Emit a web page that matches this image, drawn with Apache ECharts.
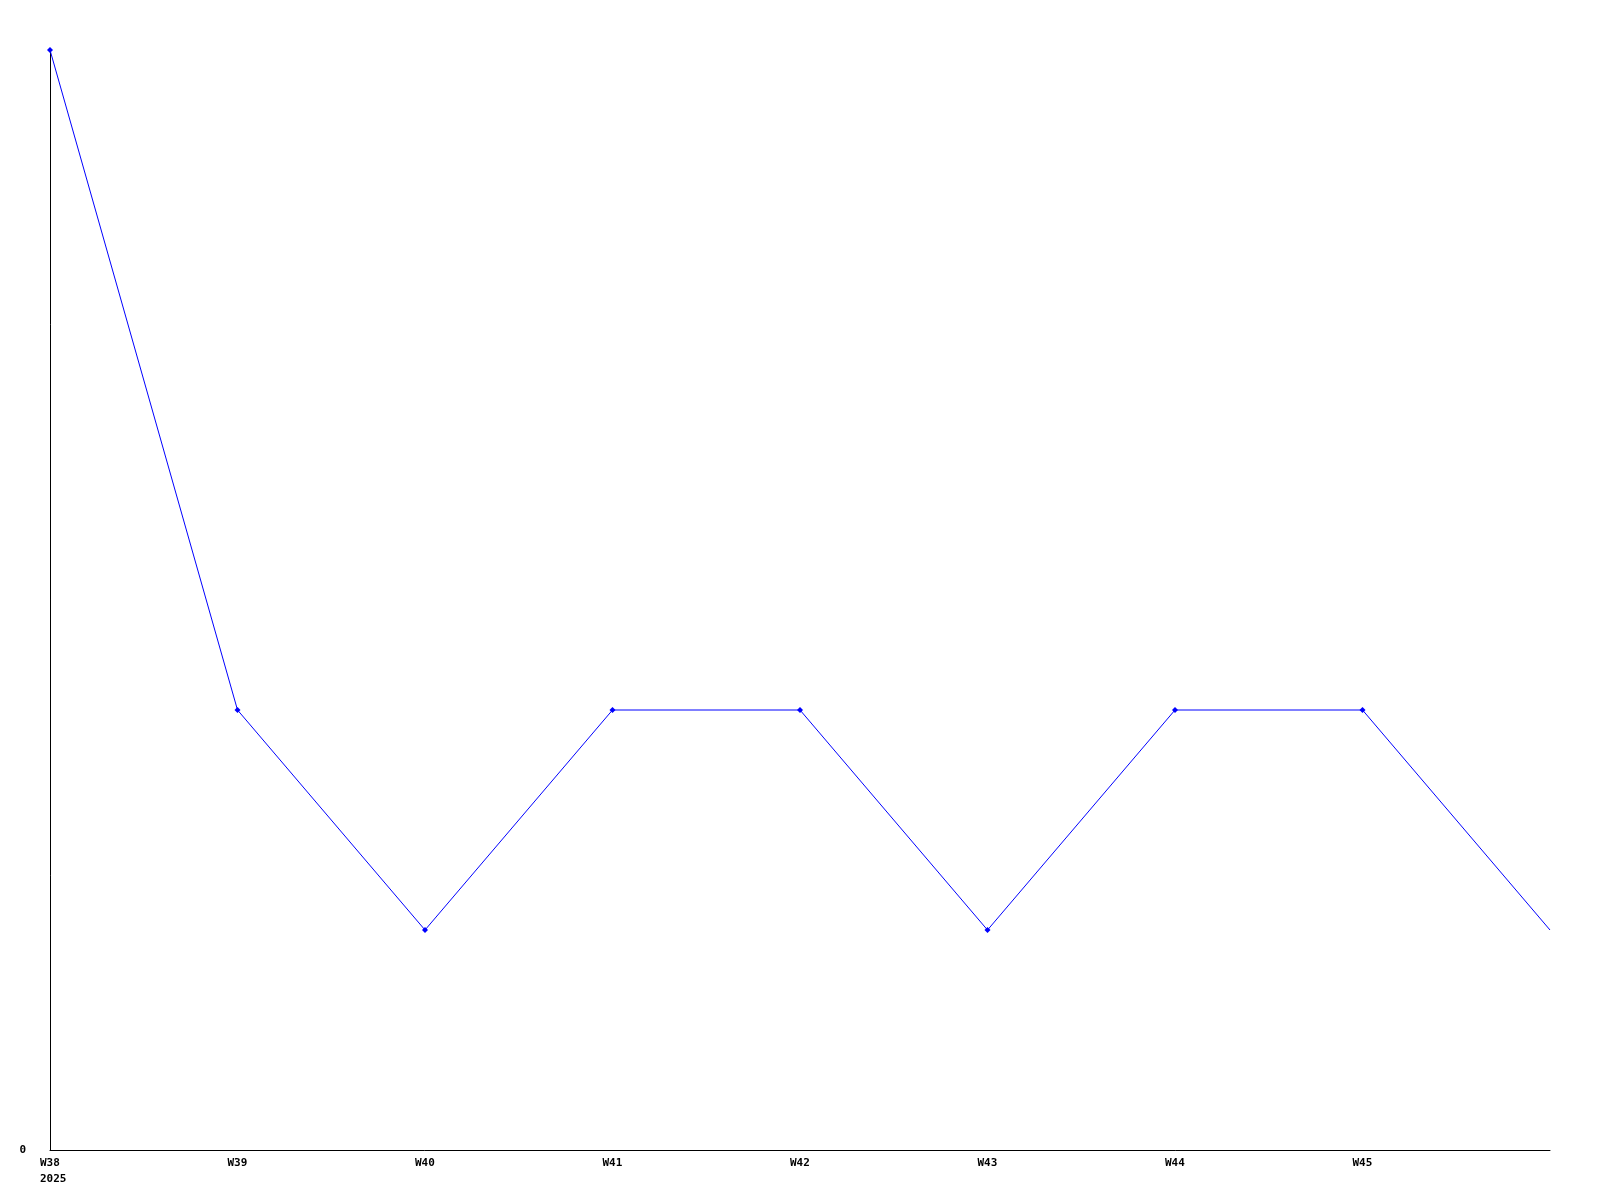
<!DOCTYPE html>
<html><head><meta charset="utf-8">
<script src="https://cdn.jsdelivr.net/npm/echarts@6/dist/echarts.min.js"></script>
<style>html,body{margin:0;padding:0;background:#fff}#c{width:1600px;height:1200px}</style>
</head><body><div id="c"></div>
<script>
const weeks = ['W38','W39','W40','W41','W42','W43','W44','W45','W46'];
const yearLabel = '2025';
const values = [5,2,1,2,2,1,2,2,1];
const yMax = 5;

const chart = echarts.init(document.getElementById('c'));
const font = {fontFamily:'DejaVu Sans Mono', fontWeight:'bold', fontSize:11, color:'#000'};
const richLine = Object.assign({width:20,align:'left',lineHeight:16}, font);
chart.setOption({
  animation:false,
  grid:{left:50,right:50,top:50,bottom:50},
  xAxis:{type:'category',data:weeks,boundaryGap:false,
    axisLine:{lineStyle:{color:'#000',width:1}},axisTick:{show:false},splitLine:{show:false},
    axisLabel:Object.assign({margin:5,lineHeight:16,interval:0,
      rich:{a:richLine},
      formatter:(v,i)=> i===weeks.length-1 ? '' : (i===0 ? '{a|'+v+'}\n{a|'+yearLabel+'}' : '{a|'+v+'}')},font)},
  yAxis:{type:'value',min:0,max:yMax,interval:yMax,
    axisLine:{show:true,lineStyle:{color:'#000',width:1}},axisTick:{show:false},splitLine:{show:false},
    axisLabel:Object.assign({margin:24,formatter:v=>v===0?'0':''},font)},
  series:[{type:'line',
    data:values.map((v,i)=>i===values.length-1?{value:v,symbol:'none'}:v),
    symbol:'diamond',symbolSize:6,showSymbol:true,
    lineStyle:{color:'#0000ff',width:1},itemStyle:{color:'#0000ff'}}]
});
</script></body></html>
